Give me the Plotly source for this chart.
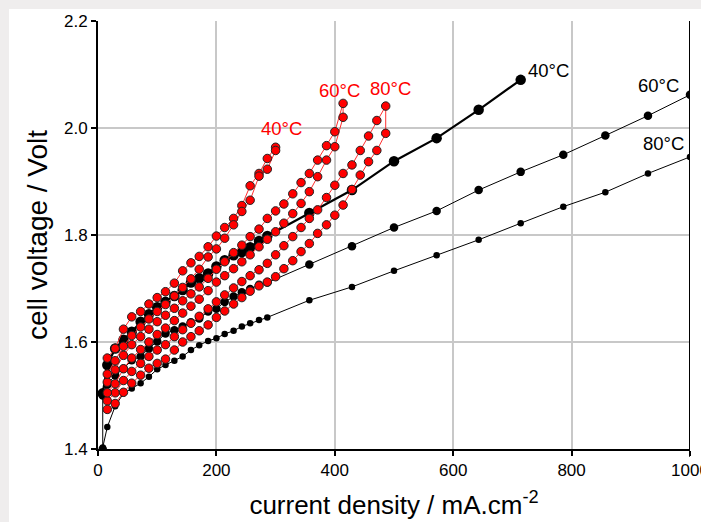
import plotly.graph_objects as go

# ---------------- data ----------------
x_dense = [8, 15.7, 29, 43, 57, 72, 86, 100, 114, 129, 143, 157, 171, 186, 200, 214, 229, 243, 257, 272, 286]
x_sparse = [357, 429, 500, 572, 643, 714, 786, 857, 929, 1000]

black40_x = x_dense + x_sparse[:6]
black40_y = [1.504, 1.557, 1.588, 1.604, 1.619, 1.638, 1.652, 1.665, 1.675, 1.686, 1.697, 1.711, 1.719,
             1.728, 1.741, 1.753, 1.762, 1.768, 1.777, 1.789, 1.798,
             1.841, 1.884, 1.938, 1.981, 2.034, 2.090]

black60_x = [8] + x_dense + x_sparse
black60_y = [1.400, 1.500, 1.520, 1.538, 1.550, 1.566, 1.573, 1.588, 1.601, 1.616, 1.622, 1.629, 1.637,
             1.644, 1.657, 1.662, 1.675, 1.685, 1.693, 1.699, 1.707, 1.711,
             1.745, 1.779, 1.814, 1.845, 1.884, 1.918, 1.950, 1.986, 2.023, 2.062]

black80_x = x_dense + x_sparse
black80_y = [1.403, 1.441, 1.480, 1.504, 1.513, 1.523, 1.535, 1.549, 1.557, 1.565, 1.573, 1.585, 1.594,
             1.602, 1.607, 1.615, 1.621, 1.629, 1.635, 1.641, 1.646,
             1.678, 1.703, 1.733, 1.762, 1.791, 1.822, 1.853, 1.880, 1.915, 1.946]

red_x = [15.7, 29, 43, 57, 72, 86, 100, 114, 129, 143, 157, 171, 186, 200, 214, 229, 243, 257, 272, 286,
         300, 314, 329, 343, 357, 371, 386, 400, 414, 429, 443, 457, 471, 486]

red40_up = [1.570, 1.588, 1.624, 1.647, 1.657, 1.671, 1.683, 1.694, 1.710, 1.733, 1.748, 1.760, 1.778,
            1.798, 1.814, 1.831, 1.855, 1.892, 1.915, 1.943, 1.964]
red40_down = [1.540, 1.565, 1.592, 1.612, 1.628, 1.643, 1.657, 1.670, 1.686, 1.702, 1.718, 1.736, 1.759,
              1.774, 1.794, 1.819, 1.844, 1.865, 1.910, 1.923, 1.958]

red60_up = [1.525, 1.548, 1.575, 1.595, 1.610, 1.624, 1.638, 1.650, 1.663, 1.677, 1.690, 1.703, 1.719,
            1.736, 1.750, 1.767, 1.781, 1.797, 1.811, 1.831, 1.845, 1.858, 1.877, 1.898, 1.915, 1.940,
            1.967, 1.993, 2.046]
red60_down = [1.505, 1.522, 1.550, 1.570, 1.586, 1.600, 1.614, 1.626, 1.640, 1.654, 1.667, 1.680, 1.696,
              1.712, 1.724, 1.737, 1.750, 1.763, 1.778, 1.792, 1.806, 1.822, 1.840, 1.859, 1.881, 1.909,
              1.940, 1.965, 2.020]

red80_up = [1.490, 1.505, 1.528, 1.545, 1.560, 1.573, 1.585, 1.595, 1.610, 1.623, 1.635, 1.648, 1.662,
            1.675, 1.688, 1.701, 1.713, 1.724, 1.735, 1.747, 1.763, 1.780, 1.797, 1.814, 1.831, 1.847,
            1.870, 1.893, 1.915, 1.931, 1.958, 1.985, 2.014, 2.041]
red80_down = [1.474, 1.485, 1.506, 1.523, 1.538, 1.551, 1.560, 1.568, 1.585, 1.600, 1.610, 1.621, 1.632,
              1.646, 1.658, 1.671, 1.683, 1.695, 1.705, 1.712, 1.722, 1.737, 1.752, 1.769, 1.784, 1.803,
              1.819, 1.837, 1.856, 1.885, 1.912, 1.937, 1.958, 1.990]

x_ticks = [0, 200, 400, 600, 800, 1000]
y_ticks = [1.4, 1.6, 1.8, 2.0, 2.2]
y_tick_text = ["1.4", "1.6", "1.8", "2.0", "2.2"]

red_labels = [("40°C", 310, 2.000), ("60°C", 408, 2.071), ("80°C", 494, 2.074)]
black_labels = [("40°C", 761, 2.108), ("60°C", 946, 2.079), ("80°C", 956, 1.971)]

FONT = "Liberation Sans, Arial, sans-serif"

fig = go.Figure()

def black_trace(xs, ys, msize, lwidth):
    fig.add_trace(go.Scatter(x=xs, y=ys, mode="lines+markers",
                             line=dict(color="black", width=lwidth),
                             marker=dict(color="black", size=msize, line=dict(width=0)),
                             showlegend=False, hoverinfo="skip"))

black_trace(black80_x, black80_y, 6.5, 1)
black_trace(black60_x, black60_y, 8.5, 1)
black_trace(black40_x, black40_y, 10.5, 2.2)

def red_trace(up, down):
    n = len(up)
    xs = red_x[:n] + red_x[:n][::-1]
    ys = up + down[::-1]
    fig.add_trace(go.Scatter(x=xs, y=ys, mode="lines+markers",
                             line=dict(color="#ff3030", width=1),
                             marker=dict(color="#ff0000", size=8.5, line=dict(color="#222222", width=1)),
                             showlegend=False, hoverinfo="skip"))

red_trace(red80_up, red80_down)
red_trace(red60_up, red60_down)
red_trace(red40_up, red40_down)

for t, x, y in red_labels:
    fig.add_annotation(x=x, y=y, text=t, showarrow=False, xref="x", yref="y",
                       font=dict(family=FONT, size=18.5, color="#ff0000"))
for t, x, y in black_labels:
    fig.add_annotation(x=x, y=y, text=t, showarrow=False, xref="x", yref="y",
                       font=dict(family=FONT, size=18.5, color="black"))

# page frame: light gray border at top/left, white page
L, R, T, B = 98, 11, 21, 73
W, H = 701, 522
pw, ph = W - L - R, H - T - B
def px2paper_x(p):
    return (p - L) / pw
def px2paper_y(p):
    return (H - B - p) / ph
fig.add_shape(type="rect", xref="paper", yref="paper",
              x0=px2paper_x(9), x1=px2paper_x(W + 5), y0=px2paper_y(H + 5), y1=px2paper_y(9),
              fillcolor="white", line=dict(width=0), layer="below")
# right black frame line
fig.add_shape(type="line", xref="x", yref="paper", x0=1000, x1=1000, y0=-0.018, y1=1,
              line=dict(color="black", width=2))

fig.update_layout(
    width=W, height=H,
    margin=dict(l=L, r=R, t=T, b=B, autoexpand=False),
    paper_bgcolor="#efeded", plot_bgcolor="white",
    font=dict(family=FONT, color="black"),
    xaxis=dict(range=[0, 1000], tickvals=x_ticks, ticktext=[str(v) for v in x_ticks],
               showgrid=True, gridcolor="#c8c8c8", gridwidth=1.5,
               showline=True, linecolor="black", linewidth=2,
               ticks="outside", ticklen=5, tickwidth=1.5, tickcolor="black",
               tickfont=dict(size=17, family=FONT), zeroline=False,
               ticklabeloverflow="allow", automargin=False,
               title=dict(text="current density / mA.cm<sup>-2</sup>", font=dict(size=26, family=FONT),
                          standoff=16)),
    yaxis=dict(range=[1.4, 2.2], tickvals=y_ticks, ticktext=y_tick_text,
               showgrid=True, gridcolor="#c8c8c8", gridwidth=1.5,
               showline=True, linecolor="black", linewidth=2,
               ticks="outside", ticklen=5, tickwidth=1.5, tickcolor="black",
               tickfont=dict(size=17, family=FONT), zeroline=False, automargin=False,
               title=dict(text="cell voltage / Volt", font=dict(size=28, family=FONT), standoff=8)),
)

fig.write_html("out.html")
